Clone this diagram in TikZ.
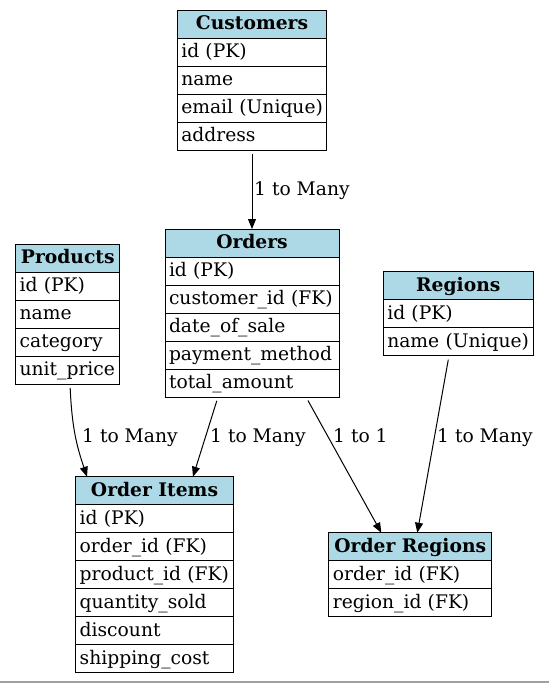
\documentclass[tikz,border=0pt]{standalone}
\usepackage{fontspec}
\setmainfont{DejaVu Serif}
\usetikzlibrary{positioning,arrows.meta}
\definecolor{hdrblue}{HTML}{ADD8E6}
\definecolor{framegray}{HTML}{A0A0A0}
\tikzset{
	tblhead/.style={draw, fill=hdrblue, line width=1pt, outer sep=0pt, inner sep=0pt,
		minimum height=28pt, minimum width=#1, anchor=north,
		font=\fontsize{18.7}{22}\selectfont\bfseries, text height=15pt, text depth=3.8pt},
	tblrow/.style={draw, line width=1pt, outer sep=0pt, inner xsep=4pt, inner ysep=0pt,
		minimum height=28pt, text width=#1, align=left,
		font=\fontsize{18.7}{22}\selectfont, text height=15pt, text depth=3.8pt},
	rel/.style={-{Triangle[length=10pt,width=8pt]}, line width=1pt, shorten <=4pt},
	lbl/.style={anchor=base west, inner sep=0pt, font=\fontsize{18.7}{22}\selectfont},
}
\begin{document}
\begin{tikzpicture}[x=1pt,y=-1pt]
			\useasboundingbox (0,0) rectangle (549,683);
			% Customers
			\node[tblhead=149.4pt] (cust) at (252,10.3) {Customers};
			\node[tblrow=141.4pt, below=0pt of cust] (cust-1) {id~(PK)};
			\node[tblrow=141.4pt, below=0pt of cust-1] (cust-2) {name};
			\node[tblrow=141.4pt, below=0pt of cust-2] (cust-3) {email~(Unique)};
			\node[tblrow=141.4pt, below=0pt of cust-3] (cust-4) {address};
			% Orders
			\node[tblhead=174pt] (ord) at (252,229) {Orders};
			\node[tblrow=166pt, below=0pt of ord] (ord-1) {id~(PK)};
			\node[tblrow=166pt, below=0pt of ord-1] (ord-2) {customer\_id~(FK)};
			\node[tblrow=166pt, below=0pt of ord-2] (ord-3) {date\_of\_sale};
			\node[tblrow=166pt, below=0pt of ord-3] (ord-4) {payment\_method};
			\node[tblrow=166pt, below=0pt of ord-4] (ord-5) {total\_amount};
			% Products
			\node[tblhead=104.3pt] (prod) at (67.8,244) {Products};
			\node[tblrow=96.3pt, below=0pt of prod] (prod-1) {id~(PK)};
			\node[tblrow=96.3pt, below=0pt of prod-1] (prod-2) {name};
			\node[tblrow=96.3pt, below=0pt of prod-2] (prod-3) {category};
			\node[tblrow=96.3pt, below=0pt of prod-3] (prod-4) {unit\_price};
			% Regions
			\node[tblhead=150pt] (reg) at (458.3,271.7) {Regions};
			\node[tblrow=142pt, below=0pt of reg] (reg-1) {id~(PK)};
			\node[tblrow=142pt, below=0pt of reg-1] (reg-2) {name~(Unique)};
			% Order Items
			\node[tblhead=157.6pt] (items) at (154.5,476.7) {Order Items};
			\node[tblrow=149.6pt, below=0pt of items] (items-1) {id~(PK)};
			\node[tblrow=149.6pt, below=0pt of items-1] (items-2) {order\_id~(FK)};
			\node[tblrow=149.6pt, below=0pt of items-2] (items-3) {product\_id~(FK)};
			\node[tblrow=149.6pt, below=0pt of items-3] (items-4) {quantity\_sold};
			\node[tblrow=149.6pt, below=0pt of items-4] (items-5) {discount};
			\node[tblrow=149.6pt, below=0pt of items-5] (items-6) {shipping\_cost};
			% Order Regions
			\node[tblhead=162.7pt] (oreg) at (410.3,532.7) {Order Regions};
			\node[tblrow=154.7pt, below=0pt of oreg] (oreg-1) {order\_id~(FK)};
			\node[tblrow=154.7pt, below=0pt of oreg-1] (oreg-2) {region\_id~(FK)};
			% Relations
			\draw[rel] (cust-4.south) -- (ord.north);
			\draw[rel] ([xshift=2.2pt]prod-4.south) .. controls +(2,45) and +(-10,-30) .. ([xshift=-67.5pt]items.north);
			\draw[rel] ([xshift=-34pt]ord-5.south) -- ([xshift=38.5pt]items.north);
			\draw[rel] ([xshift=54pt]ord-5.south) -- ([xshift=-29pt]oreg.north);
			\draw[rel] ([xshift=-9.3pt]reg-2.south) -- ([xshift=7pt]oreg.north);
			\node[lbl] (l-cust) at (254,195) {1 to Many};
			\node[lbl] (l-prod) at (82,442) {1 to Many};
			\node[lbl] (l-ord) at (210,442) {1 to Many};
			\node[lbl] (l-oreg) at (333,442) {1 to 1};
			\node[lbl] (l-reg) at (437,442) {1 to Many};
			% Bottom edge
			\draw[framegray, line width=1.5pt] (0,682) -- (549,682);
\end{tikzpicture}
\end{document}
